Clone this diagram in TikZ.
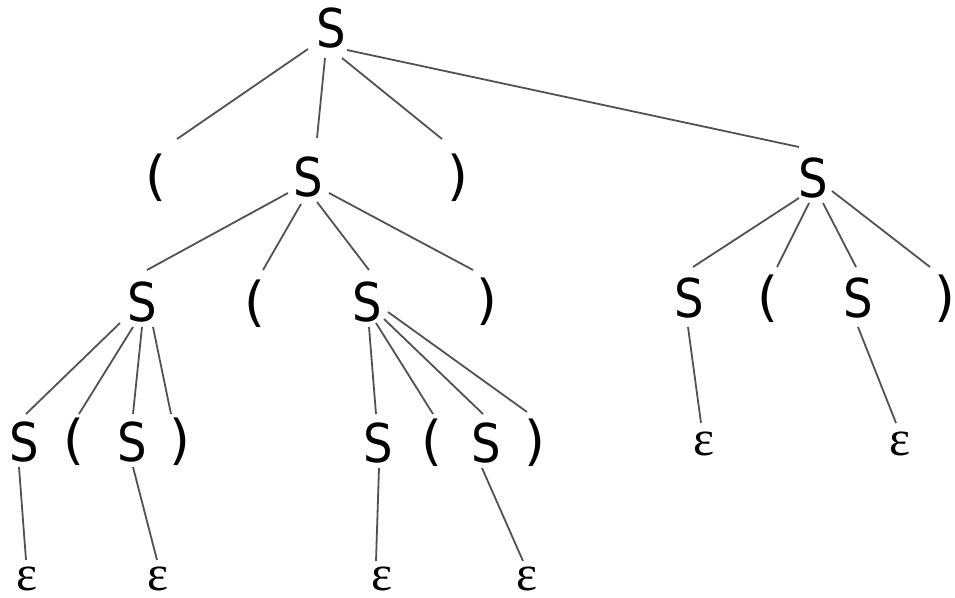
\documentclass[tikz,border=0pt]{standalone}
\usepackage{fontspec}
\newfontfamily\symfont{DejaVu Sans}
\newfontfamily\epsfont{Liberation Serif}
\usetikzlibrary{calc}
\newcommand{\Sg}{\scalebox{0.87}[1]{S}}
\begin{document}
\begin{tikzpicture}[x=1pt,y=-1pt,
  sym/.style={inner sep=0pt,font=\symfont\fontsize{53.5}{54}\selectfont},
  eps/.style={inner sep=0pt,font=\epsfont\fontsize{50}{50}\selectfont},
  edge/.style={draw=black!68,line width=1.8pt}]
\useasboundingbox (0,0) rectangle (955,597);
% level 1
\node[sym] (r) at (331,28) {\Sg};
% level 2
\node[sym] (a1) at (156,178) {(};
\node[sym] (s1) at (308,177) {\Sg};
\node[sym] (b1) at (458,178) {)};
\node[sym] (s2) at (813,178) {\Sg};
% level 3
\node[sym] (s11) at (142,302) {\Sg};
\node[sym] (a11) at (255,304) {(};
\node[sym] (s12) at (367,302) {\Sg};
\node[sym] (b11) at (487,302) {)};
\node[sym] (s21) at (689,298) {\Sg};
\node[sym] (a21) at (768,299) {(};
\node[sym] (s22) at (858,298) {\Sg};
\node[sym] (b21) at (945,299) {)};
% level 4
\node[sym] (t1) at (24,442) {\Sg};
\node[sym] (t2) at (74,442) {(};
\node[sym] (t3) at (132,442) {\Sg};
\node[sym] (t4) at (180,442) {)};
\node[sym] (u1) at (378,443) {\Sg};
\node[sym] (u2) at (432,443) {(};
\node[sym] (u3) at (486,443) {\Sg};
\node[sym] (u4) at (535,443) {)};
\node[eps] (e21) at (704,444) {ε};
\node[eps] (e22) at (900,444) {ε};
% level 5
\node[eps] (e1) at (27,579) {ε};
\node[eps] (e2) at (158,579) {ε};
\node[eps] (e3) at (382,579) {ε};
\node[eps] (e4) at (527,579) {ε};
% edges from root
\draw[edge] ($(r)+(-23,21)$) -- ($(a1)+(21,-39)$);
\draw[edge] ($(r)+(-6,30)$) -- ($(s1)+(9,-39)$);
\draw[edge] ($(r)+(11,30)$) -- ($(b1)+(-16,-39)$);
\draw[edge] ($(r)+(16,22)$) -- ($(s2)+(-14,-31)$);
% edges from s1
\draw[edge] ($(s1)+(-20,16)$) -- ($(s11)+(5,-32)$);
\draw[edge] ($(s1)+(-7,27)$) -- ($(a11)+(8,-34)$);
\draw[edge] ($(s1)+(9,25)$) -- ($(s12)+(2,-32)$);
\draw[edge] ($(s1)+(21,16)$) -- ($(b11)+(-14,-32)$);
% edges from s2
\draw[edge] ($(s2)+(-14,20)$) -- ($(s21)+(4,-31)$);
\draw[edge] ($(s2)+(-4,25)$) -- ($(a21)+(9,-32)$);
\draw[edge] ($(s2)+(10,25)$) -- ($(s22)+(-2,-31)$);
\draw[edge] ($(s2)+(19,13)$) -- ($(b21)+(-15,-32)$);
\draw[edge] ($(s21)+(-1,29)$) -- ($(e21)+(-3,-21)$);
\draw[edge] ($(s22)+(0,29)$) -- ($(e22)+(-4,-21)$);
% edges from s11
\draw[edge] ($(s11)+(-22,21)$) -- ($(t1)+(2,-28)$);
\draw[edge] ($(s11)+(-9,25)$) -- ($(t2)+(5,-28)$);
\draw[edge] ($(s11)+(0,25)$) -- ($(t3)+(1,-28)$);
\draw[edge] ($(s11)+(11,25)$) -- ($(t4)+(-9,-28)$);
\draw[edge] ($(t1)+(-5,25)$) -- ($(e1)+(-1,-19)$);
\draw[edge] ($(t3)+(1,25)$) -- ($(e2)+(-1,-19)$);
% edges from s12
\draw[edge] ($(s12)+(2,25)$) -- ($(u1)+(-2,-29)$);
\draw[edge] ($(s12)+(9,21)$) -- ($(u2)+(1,-29)$);
\draw[edge] ($(s12)+(17,17)$) -- ($(u3)+(-3,-29)$);
\draw[edge] ($(s12)+(21,10)$) -- ($(u4)+(-8,-31)$);
\draw[edge] ($(u1)+(1,25)$) -- ($(e3)+(-6,-18)$);
\draw[edge] ($(u3)+(-4,25)$) -- ($(e4)+(-4,-18)$);
\end{tikzpicture}
\end{document}
